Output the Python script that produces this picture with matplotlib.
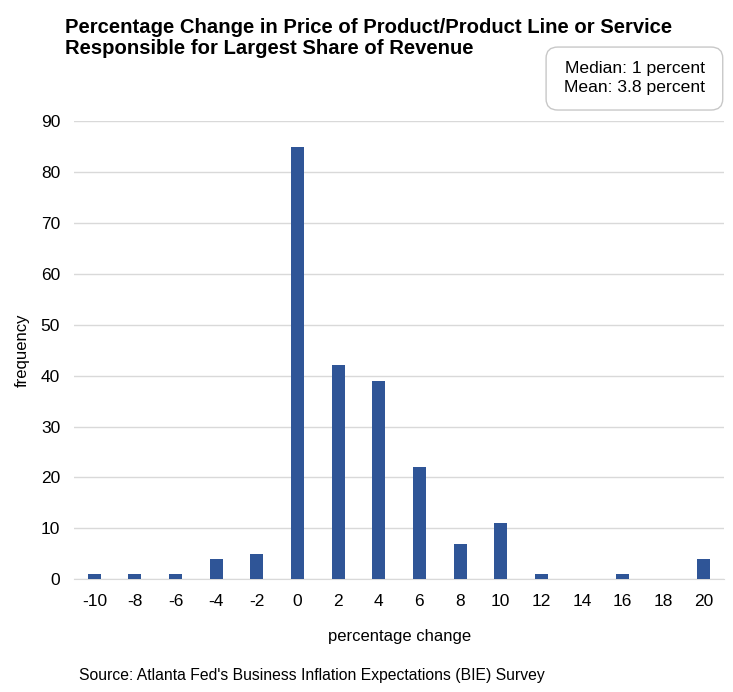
import matplotlib.pyplot as plt
from matplotlib.patches import FancyBboxPatch

plt.rcParams['font.family'] = ['Liberation Sans', 'DejaVu Sans']

categories = ['-10', '-8', '-6', '-4', '-2', '0', '2', '4', '6', '8', '10', '12', '14', '16', '18', '20']
frequency = [1, 1, 1, 4, 5, 85, 42, 39, 22, 7, 11, 1, 0, 1, 0, 4]

fig = plt.figure(figsize=(7.33, 6.92), dpi=100)
ax = fig.add_axes([0.101, 0.163, 0.887, 0.662])

x = list(range(len(categories)))
ax.bar(x, frequency, width=0.32, color='#2F5597', zorder=3)

ax.set_xlim(-0.5, len(categories) - 0.5)
ax.set_ylim(0, 90)
ax.set_yticks(range(0, 91, 10))
ax.set_xticks(x)
ax.set_xticklabels(categories)
ax.tick_params(axis='both', length=0, labelsize=12.5)
ax.tick_params(axis='y', pad=10)
ax.tick_params(axis='x', pad=11)
ax.grid(axis='y', color='#d9d9d9', linewidth=1, zorder=0)
for s in ['top', 'right', 'left']:
    ax.spines[s].set_visible(False)
ax.spines['bottom'].set_color('#d9d9d9')

ax.set_ylabel('frequency', fontsize=12, labelpad=8)
ax.set_xlabel('percentage change', fontsize=12, labelpad=14)

fig.text(0.089, 0.945, 'Percentage Change in Price of Product/Product Line or Service\nResponsible for Largest Share of Revenue',
         fontsize=14.6, fontweight='bold', va='center', ha='left', linespacing=1.15)

box = FancyBboxPatch((0.745, 0.841), 0.241, 0.091, boxstyle='round,pad=0,rounding_size=0.016',
                     transform=fig.transFigure, facecolor='white', edgecolor='#c8c8c8', linewidth=1)
fig.patches.append(box)
fig.text(0.866, 0.887, 'Median: 1 percent\nMean: 3.8 percent', fontsize=12.6, ha='center', va='center',
         linespacing=1.3)

fig.text(0.108, 0.024, "Source: Atlanta Fed's Business Inflation Expectations (BIE) Survey", fontsize=11.3,
         ha='left', va='center')

fig.savefig('out.png', dpi=100)
